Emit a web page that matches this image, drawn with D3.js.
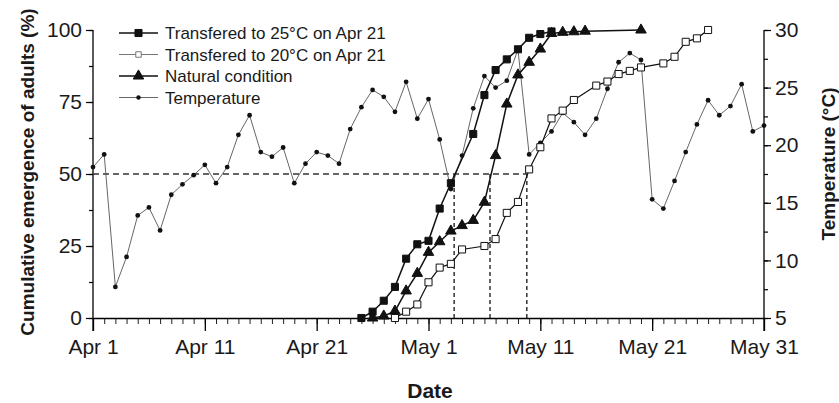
<html>
    <head>
        <title>Emergence</title>
        <style>
            body { margin: 0; background: #fff; }
        </style>
    </head>
    <body>

        <div id="chart-area"></div>

        <script src="https://d3js.org/d3.v7.min.js"></script>

        <script>

            const MARGIN = { LEFT: 93, RIGHT: 75, TOP: 30, BOTTOM: 85 }
            const WIDTH = 839 - MARGIN.LEFT - MARGIN.RIGHT
            const HEIGHT = 403 - MARGIN.TOP - MARGIN.BOTTOM
            const FONT = "'Liberation Sans', Arial, Helvetica, sans-serif"

            // 1. Data
            const parseDay = d3.utcParse("%b %d")
            const parseTime = d3.utcParse("%b %d %H:%M")

            const dateTicks = ["Apr 1", "Apr 11", "Apr 21", "May 1", "May 11", "May 21", "May 31"]
            const leftTicks = [0, 25, 50, 75, 100]
            const rightTicks = [5, 10, 15, 20, 25, 30]

            // transfered to 25°C
            const warmDates = ["Apr 25", "Apr 26", "Apr 27", "Apr 28", "Apr 29", "Apr 30", "May 1", "May 2", "May 3",
                               "May 5", "May 6", "May 7", "May 8", "May 9", "May 10", "May 11", "May 12"]
            const warmValues = [0, 2.2, 6.0, 10.8, 20.6, 25.6, 26.8, 38.0, 46.8,
                                63.9, 77.4, 86.1, 89.8, 93.3, 97.3, 98.6, 99.5]

            // transfered to 20°C
            const coolDates = ["Apr 28", "Apr 29", "Apr 30", "May 1", "May 2", "May 3", "May 4", "May 6", "May 7",
                               "May 8", "May 9", "May 10", "May 11", "May 12", "May 13", "May 14", "May 16",
                               "May 17", "May 18", "May 19", "May 20", "May 22", "May 23", "May 24", "May 25", "May 26"]
            const coolValues = [0, 2.2, 4.7, 12.4, 17.5, 18.8, 23.8, 25.0, 27.4,
                                36.5, 40.3, 51.6, 59.3, 69.3, 72.0, 75.7, 80.7,
                                82.1, 84.7, 85.8, 87.0, 88.4, 90.7, 95.9, 97.1, 100]

            // natural condition
            const naturalDates = ["Apr 26", "Apr 27", "Apr 28", "Apr 29", "Apr 30", "May 1", "May 2", "May 3", "May 4",
                                  "May 5", "May 6", "May 7", "May 8", "May 9", "May 10", "May 11", "May 12",
                                  "May 13", "May 14", "May 15", "May 20"]
            const naturalValues = [0, 0.7, 2.4, 9.4, 15.5, 22.8, 26.5, 30.2, 32.1,
                                   33.9, 40.2, 56.4, 74.3, 84.4, 88.8, 93.4, 98.8,
                                   99.2, 99.4, 99.6, 100]

            // daily temperature, Apr 1 .. May 31
            const tempValues = [18.1, 19.2, 7.7, 10.3, 13.9, 14.6, 12.6, 15.7, 16.6, 17.4,
                                18.3, 16.7, 18.1, 20.9, 22.6, 19.4, 19.0, 19.8, 16.7, 18.4,
                                19.4, 19.1, 18.4, 21.4, 23.3, 24.8, 24.2, 22.9, 25.5, 22.3,
                                24.0, 20.5, 16.2, 19.1, 23.2, 26.0, 25.0, 25.6, 28.3, 19.2,
                                20.2, 21.2, 22.8, 22.0, 20.9, 22.3, 24.9, 27.2, 28.0, 27.4,
                                15.3, 14.5, 16.9, 19.4, 21.8, 23.9, 22.6, 23.4, 25.3, 21.2,
                                21.7]
            const tempDates = d3.utcDay.range(parseDay("Apr 1"), d3.utcDay.offset(parseDay("May 31"), 1))

            // 50% emergence dates (25°C, natural, 20°C)
            const halfDates = ["May 3 07:00", "May 6 12:00", "May 9 19:00"]

            const legendNames = ["Transfered to 25°C on Apr 21", "Transfered to 20°C on Apr 21", "Natural condition", "Temperature"]


            // 2. svg
            const svg = d3.select("#chart-area")
                .append("svg")
                    .attr("width", 839)
                    .attr("height", 403)
                    .style("font-family", FONT)

            const g = svg.append("g")
                .attr("transform", `translate(${MARGIN.LEFT}, ${MARGIN.TOP})`)


            // 3. scales
            const x = d3.scaleUtc()
                .domain([parseDay("Apr 1"), parseDay("May 31")])
                .range([0, WIDTH])

            const y = d3.scaleLinear()
                .domain([0, 100])
                .range([HEIGHT, 0])

            const yT = d3.scaleLinear()
                .domain([5, 30])
                .range([HEIGHT, 0])


            // 4. axes
            const fmt = d3.utcFormat("%b %-d")

            // minor day ticks
            g.append("g")
                .attr("transform", `translate(0, ${HEIGHT})`)
                .call(d3.axisBottom(x).tickValues(tempDates).tickSize(6).tickFormat(""))
                .call(a => a.select(".domain").remove())
                .selectAll("line").attr("stroke", "#222").attr("stroke-width", 1)

            const xAxis = g.append("g")
                .attr("transform", `translate(0, ${HEIGHT})`)
                .call(d3.axisBottom(x).tickValues(dateTicks.map(parseDay)).tickSize(13).tickSizeOuter(0).tickPadding(8).tickFormat(fmt))
            xAxis.select(".domain").attr("stroke-width", 1.3)
            xAxis.selectAll("line").attr("stroke-width", 1.3)
            xAxis.selectAll("text").attr("font-size", "21px").attr("font-family", FONT).attr("fill", "#1a1a1a")

            // left axis
            g.append("g")
                .call(d3.axisLeft(y).tickValues(d3.range(0, 101, 12.5)).tickSize(4).tickFormat(""))
                .call(a => a.select(".domain").remove())
                .selectAll("line").attr("stroke-width", 1.2)

            const yAxis = g.append("g")
                .call(d3.axisLeft(y).tickValues(leftTicks).tickSize(7).tickSizeOuter(0).tickPadding(4))
            yAxis.select(".domain").attr("stroke-width", 1.3).attr("d", `M0,0V${HEIGHT + 13}`)
            yAxis.selectAll("line").attr("stroke-width", 1.2)
            yAxis.selectAll("text").attr("font-size", "21px").attr("font-family", FONT).attr("fill", "#1a1a1a")

            // right axis
            g.append("g")
                .attr("transform", `translate(${WIDTH}, 0)`)
                .call(d3.axisRight(yT).tickValues(d3.range(5, 30.1, 2.5)).tickSize(4).tickFormat(""))
                .call(a => a.select(".domain").remove())
                .selectAll("line").attr("stroke-width", 1.2)

            const tAxis = g.append("g")
                .attr("transform", `translate(${WIDTH}, 0)`)
                .call(d3.axisRight(yT).tickValues(rightTicks).tickSize(7).tickSizeOuter(0).tickPadding(4))
            tAxis.select(".domain").attr("stroke-width", 1.3).attr("d", `M0,0V${HEIGHT + 13}`)
            tAxis.selectAll("line").attr("stroke-width", 1.2)
            tAxis.selectAll("text").attr("font-size", "21px").attr("font-family", FONT).attr("fill", "#1a1a1a")


            // 5. labels
            svg.append("text")
                .attr("x", 430)
                .attr("y", 398)
                .attr("text-anchor", "middle")
                .attr("font-size", "21px")
                .attr("font-weight", "bold")
                .attr("fill", "#1a1a1a")
                .text("Date")

            svg.append("text")
                .attr("transform", "translate(34, 172) rotate(-90)")
                .attr("text-anchor", "middle")
                .attr("font-size", "19px")
                .attr("font-weight", "bold")
                .attr("fill", "#1a1a1a")
                .text("Cumulative emergence of adults (%)")

            svg.append("text")
                .attr("transform", "translate(835, 164) rotate(-90)")
                .attr("text-anchor", "middle")
                .attr("font-size", "19px")
                .attr("font-weight", "bold")
                .attr("fill", "#1a1a1a")
                .text("Temperature (°C)")


            // 6. dashed 50% lines
            const halfX = halfDates.map(d => x(parseTime(d)))
            g.append("line")
                .attr("x1", 0)
                .attr("x2", d3.max(halfX))
                .attr("y1", y(50))
                .attr("y2", y(50))
                .attr("stroke", "#333")
                .attr("stroke-width", 1.5)
                .attr("stroke-dasharray", "6,4")

            g.selectAll(".vdash")
                .data(halfX).enter()
                .append("line")
                    .attr("x1", d => d)
                    .attr("x2", d => d)
                    .attr("y1", y(50))
                    .attr("y2", HEIGHT)
                    .attr("stroke", "#333")
                    .attr("stroke-width", 1.5)
                    .attr("stroke-dasharray", "4,3")


            // 7. temperature
            const tempData = tempDates.map((d, i) => ({ date: d, v: tempValues[i] }))
            const tLine = d3.line().x(d => x(d.date)).y(d => yT(d.v))

            g.append("path")
                .datum(tempData)
                .attr("d", tLine)
                .attr("fill", "none")
                .attr("stroke", "#555")
                .attr("stroke-width", 0.9)

            g.selectAll(".tdot")
                .data(tempData).enter()
                .append("circle")
                    .attr("cx", d => x(d.date))
                    .attr("cy", d => yT(d.v))
                    .attr("r", 2.4)
                    .attr("fill", "#111")


            // 8. emergence series
            const line = d3.line().x(d => x(d.date)).y(d => y(d.v))
            const square = d3.symbol().type(d3.symbolSquare).size(50)
            const triangle = d3.symbol().type(d3.symbolTriangle).size(48)

            const series = [
                { dates: coolDates, values: coolValues, width: 1.2, sym: square, fill: "#fff" },
                { dates: naturalDates, values: naturalValues, width: 1.5, sym: triangle, fill: "#111" },
                { dates: warmDates, values: warmValues, width: 1.5, sym: square, fill: "#111" }
            ]

            series.forEach(s => {
                const data = s.dates.map((d, i) => ({ date: parseDay(d), v: s.values[i] }))
                g.append("path")
                    .datum(data)
                    .attr("d", line)
                    .attr("fill", "none")
                    .attr("stroke", "#111")
                    .attr("stroke-width", s.width)

                g.selectAll(null)
                    .data(data).enter()
                    .append("path")
                        .attr("d", s.sym)
                        .attr("transform", d => `translate(${x(d.date)}, ${y(d.v)})`)
                        .attr("fill", s.fill)
                        .attr("stroke", "#111")
                        .attr("stroke-width", 1)
            })


            // 9. legend
            const legend = svg.append("g")
                .attr("transform", "translate(119, 33)")

            const legendStyle = [
                { width: 1.5, color: "#111", sym: square, fill: "#111" },
                { width: 1, color: "#777", sym: d3.symbol().type(d3.symbolSquare).size(30), fill: "#fff" },
                { width: 1.5, color: "#111", sym: triangle, fill: "#111" },
                { width: 0.9, color: "#555", sym: null, fill: "#111" }
            ]

            legendNames.forEach((name, i) => {
                const row = legend.append("g")
                    .attr("transform", `translate(0, ${i * 21.5})`)
                const st = legendStyle[i]

                row.append("line")
                    .attr("x1", 0)
                    .attr("x2", 39)
                    .attr("stroke", st.color)
                    .attr("stroke-width", st.width)

                if (st.sym) {
                    row.append("path")
                        .attr("d", st.sym)
                        .attr("transform", "translate(19.5, 0)")
                        .attr("fill", st.fill)
                        .attr("stroke", st.color)
                        .attr("stroke-width", 1)
                } else {
                    row.append("circle")
                        .attr("cx", 19.5)
                        .attr("r", 2.2)
                        .attr("fill", st.fill)
                }

                row.append("text")
                    .attr("x", 46)
                    .attr("y", 6)
                    .attr("font-size", "17px")
                    .attr("fill", "#1a1a1a")
                    .text(name)
            })

        </script>
    </body>
</html>
